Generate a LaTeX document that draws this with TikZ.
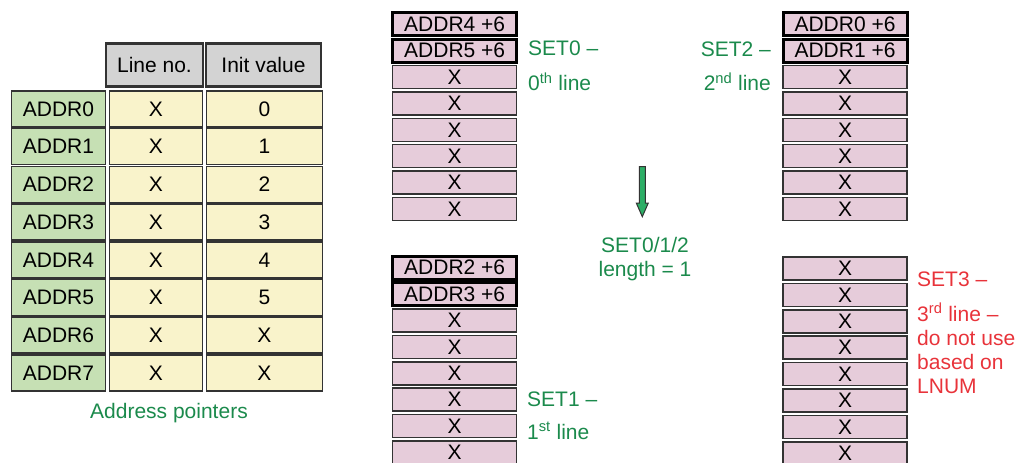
\documentclass[tikz,border=0pt]{standalone}
\usepackage{fontspec}
\setmainfont{Liberation Sans}
\usetikzlibrary{positioning}
\definecolor{ptrGreen}{HTML}{C6E0B4}
\definecolor{cellYellow}{HTML}{F9F3CB}
\definecolor{headGray}{HTML}{D3D3D3}
\definecolor{linePink}{HTML}{E6CCDA}
\definecolor{edgeInk}{HTML}{333333}
\definecolor{lblGreen}{HTML}{1B8A4C}
\definecolor{lblRed}{HTML}{E8333A}
\definecolor{arrowGreen}{HTML}{2DAE66}

\begin{document}
\begin{tikzpicture}[
        x=1pt,
        y=-1pt,
        font=\fontsize{21}{24}\selectfont,
        tcell/.style={rectangle, draw=edgeInk, line width=1.5pt, inner sep=0pt,
                      minimum height=36pt, align=center, text=black},
        ptr/.style={tcell, fill=ptrGreen, minimum width=94pt},
        lno/.style={tcell, fill=cellYellow, minimum width=93pt},
        ival/.style={tcell, fill=cellYellow, minimum width=116pt},
        head/.style={tcell, fill=headGray, line width=2.5pt, minimum height=43pt},
        linebox/.style={rectangle, draw=edgeInk, line width=1.5pt, fill=linePink,
                        inner sep=0pt, minimum width=124pt, minimum height=23pt},
        addrbox/.style={linebox, draw=black, line width=3pt},
        setlbl/.style={text=lblGreen, inner sep=0pt},
        badlbl/.style={text=lblRed, inner sep=0pt, align=left},
        blockarrow/.style={draw=edgeInk, line width=1pt, fill=arrowGreen}
    ]
    \useasboundingbox (0,0) rectangle (1018,463);

    % Address pointer table
    \node[head, minimum width=97pt]  (hdline) at (154.5, 65) {Line no.};
    \node[head, minimum width=115pt] (hdinit) at (263.5, 65) {Init value};

    \node[ptr] (ptr0) at (58.5, 109.0) {ADDR0};
    \node[ptr] (ptr1) at (58.5, 146.7) {ADDR1};
    \node[ptr] (ptr2) at (58.5, 184.4) {ADDR2};
    \node[ptr] (ptr3) at (58.5, 222.1) {ADDR3};
    \node[ptr] (ptr4) at (58.5, 259.8) {ADDR4};
    \node[ptr] (ptr5) at (58.5, 297.5) {ADDR5};
    \node[ptr] (ptr6) at (58.5, 335.2) {ADDR6};
    \node[ptr] (ptr7) at (58.5, 372.9) {ADDR7};

    \node[lno] (lno0) at (156, 109.0) {X};
    \node[lno] (lno1) at (156, 146.7) {X};
    \node[lno] (lno2) at (156, 184.4) {X};
    \node[lno] (lno3) at (156, 222.1) {X};
    \node[lno] (lno4) at (156, 259.8) {X};
    \node[lno] (lno5) at (156, 297.5) {X};
    \node[lno] (lno6) at (156, 335.2) {X};
    \node[lno] (lno7) at (156, 372.9) {X};

    \node[ival] (ival0) at (264.5, 109.0) {0};
    \node[ival] (ival1) at (264.5, 146.7) {1};
    \node[ival] (ival2) at (264.5, 184.4) {2};
    \node[ival] (ival3) at (264.5, 222.1) {3};
    \node[ival] (ival4) at (264.5, 259.8) {4};
    \node[ival] (ival5) at (264.5, 297.5) {5};
    \node[ival] (ival6) at (264.5, 335.2) {X};
    \node[ival] (ival7) at (264.5, 372.9) {X};

    \node[setlbl, anchor=north] (ptrcap) at (169, 403) {Address pointers};

    % SET0
    \node[addrbox] (set0a) at (454.7,  24.2) {ADDR4 +6};
    \node[addrbox] (set0b) at (454.7,  50.6) {ADDR5 +6};
    \node[linebox] (set0c) at (454.7,  77.0) {X};
    \node[linebox] (set0d) at (454.7, 103.4) {X};
    \node[linebox] (set0e) at (454.7, 129.8) {X};
    \node[linebox] (set0f) at (454.7, 156.2) {X};
    \node[linebox] (set0g) at (454.7, 182.6) {X};
    \node[linebox] (set0h) at (454.7, 209.0) {X};
    \node[setlbl, align=left, anchor=north west] (set0lbl) at (528, 41)
        {SET0 --\\[11pt] 0\textsuperscript{th} line};

    % SET1
    \node[addrbox] (set1a) at (454.7, 267.7) {ADDR2 +6};
    \node[addrbox] (set1b) at (454.7, 294.1) {ADDR3 +6};
    \node[linebox] (set1c) at (454.7, 320.5) {X};
    \node[linebox] (set1d) at (454.7, 346.9) {X};
    \node[linebox] (set1e) at (454.7, 373.3) {X};
    \node[linebox] (set1f) at (454.7, 399.7) {X};
    \node[linebox] (set1g) at (454.7, 426.1) {X};
    \node[linebox] (set1h) at (454.7, 452.5) {X};
    \node[setlbl, align=left, anchor=north west] (set1lbl) at (527, 391.5)
        {SET1 --\\[9pt] 1\textsuperscript{st} line};

    % SET2
    \node[addrbox] (set2a) at (845,  24.2) {ADDR0 +6};
    \node[addrbox] (set2b) at (845,  50.6) {ADDR1 +6};
    \node[linebox] (set2c) at (845,  77.0) {X};
    \node[linebox] (set2d) at (845, 103.4) {X};
    \node[linebox] (set2e) at (845, 129.8) {X};
    \node[linebox] (set2f) at (845, 156.2) {X};
    \node[linebox] (set2g) at (845, 182.6) {X};
    \node[linebox] (set2h) at (845, 209.0) {X};
    \node[setlbl, align=right, anchor=north east] (set2lbl) at (771, 42)
        {SET2 --\\[10pt] 2\textsuperscript{nd} line};

    % SET3 (unused)
    \node[linebox] (set3a) at (845, 268.5) {X};
    \node[linebox] (set3b) at (845, 294.9) {X};
    \node[linebox] (set3c) at (845, 321.3) {X};
    \node[linebox] (set3d) at (845, 347.7) {X};
    \node[linebox] (set3e) at (845, 374.1) {X};
    \node[linebox] (set3f) at (845, 400.5) {X};
    \node[linebox] (set3g) at (845, 426.9) {X};
    \node[linebox] (set3h) at (845, 453.3) {X};
    \node[badlbl, anchor=north west] (set3lbl) at (917, 271.5)
        {SET3 --\\[11pt] 3\textsuperscript{rd} line --\\ do not use\\ based on\\ LNUM};

    % Length note
    \draw[blockarrow] (639.3,166.7) -- (645.3,166.7) -- (645.3,203) -- (648.3,203)
        -- (642.3,216.7) -- (636.3,203) -- (639.3,203) -- cycle;
    \node[setlbl, align=center, anchor=north] (lennote) at (645, 237)
        {SET0/1/2\\ length = 1};

\end{tikzpicture}
\end{document}
